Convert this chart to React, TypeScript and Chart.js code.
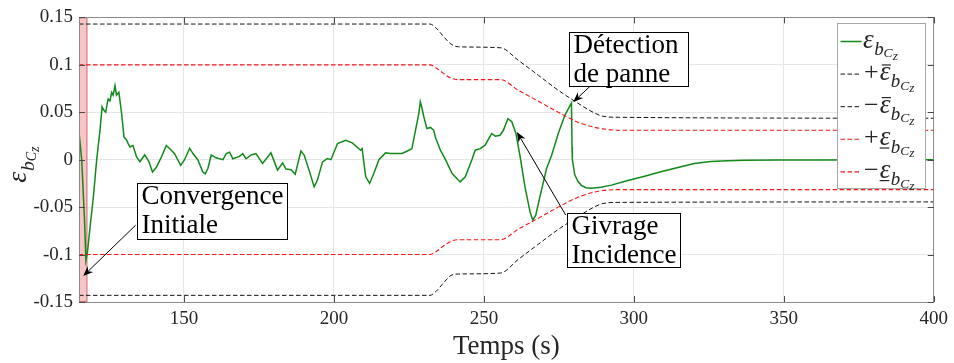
import React, { useEffect, useRef } from "react";
import { Chart, registerables } from "chart.js";

Chart.register(...registerables);

const FONT = "'Liberation Serif', 'Times New Roman', serif";
Chart.defaults.font.family = FONT;

const xMin = 115;
const xMax = 400;
const xTicks = [150, 200, 250, 300, 350, 400];
const yMin = -0.15;
const yMax = 0.15;
const yTicks = [-0.15, -0.1, -0.05, 0, 0.05, 0.1, 0.15];
const yTickLabels = ["-0.15", "-0.1", "-0.05", "0", "0.05", "0.1", "0.15"];

// green signal: time (s)
const tGreen = [
  115, 115.9, 116.8, 117.3, 117.8, 118.7, 119.8, 120.9, 122, 122.7,
  123.3, 123.9, 124.7, 125.3, 125.9, 126.4, 127, 127.5, 128.3, 129.2,
  130, 130.8, 131.4, 132, 133, 134.2, 135.3, 136.9, 138.3, 139.5,
  140.8, 142.5, 144.1, 145.8, 146.9, 148.9, 150.2, 151.9, 153, 154.6,
  156.3, 157.1, 158, 159.1, 160.7, 163, 164.1, 165.2, 166.3, 168.5,
  169.6, 170.7, 172.4, 174, 176.2, 179, 181.2, 182.9, 184, 185.7,
  187.1, 189, 190.1, 191.7, 193.4, 194.5, 196.2, 197.8, 199, 201.2,
  203.9, 206.1, 208.9, 209.4, 210.6, 211.9, 213.3, 215, 217.2, 218.9,
  220.5, 222.7, 225, 226, 227.2, 228.3, 228.8, 229.3, 230, 231,
  232.2, 233.3, 233.8, 235.5, 237.2, 239.4, 242.1, 243.8, 246, 247.1,
  248.8, 250.4, 252.6, 253.8, 255.4, 256.5, 258, 259.3, 260.7, 262.1,
  263.7, 265.4, 266.3, 267.3, 268.7, 270.9, 272.6, 274.8, 277, 279.2,
  279.4, 279.5, 280.3, 281.4, 282.5, 284, 285.9, 289, 292.5, 298,
  303.6, 309, 314.7, 320.2, 325.7, 331.3, 336.8, 347.9, 360, 400,
];
// green signal: epsilon_bCz
const epsGreen = [
  0.029, 0.0, -0.06, -0.106, -0.098, -0.0707, -0.039, 0.0, 0.031, 0.0556,
  0.052, 0.05, 0.064, 0.062, 0.071, 0.068, 0.078, 0.068, 0.071, 0.049,
  0.024, 0.021, 0.017, 0.0135, 0.015, 0.003, -0.002, 0.005, -0.002, -0.013,
  -0.008, 0.003, 0.015, 0.01, 0.006, -0.006, 0.0, 0.012, 0.0065, 0.0,
  -0.013, -0.015, -0.009, 0.005, 0.002, 0.0, 0.0065, 0.008, 0.001, 0.0035,
  0.0065, 0.001, 0.005, 0.0065, -0.004, 0.0072, -0.011, -0.0033, -0.0099, -0.0106,
  -0.0153, 0.0093, 0.0047, -0.011, -0.0286, -0.0215, -0.0023, 0.0012, 0.0, 0.017,
  0.0205, 0.0177, 0.01, 0.0117, -0.018, -0.025, -0.0145, 0.0, 0.0072, 0.0065,
  0.0065, 0.0065, 0.01, 0.0117, 0.031, 0.0486, 0.061, 0.055, 0.045, 0.0328,
  0.034, 0.031, 0.024, 0.01, 0.0, -0.0145, -0.0234, -0.018, 0.0, 0.01,
  0.0117, 0.0153, 0.0276, 0.0248, 0.0258, 0.031, 0.0433, 0.04, 0.0276, 0.003,
  -0.0286, -0.055, -0.0637, -0.0584, -0.039, -0.0093, 0.0047, 0.0276, 0.0468, 0.0598,
  0.0135, 0.0, -0.016, -0.023, -0.027, -0.0295, -0.03, -0.029, -0.0268, -0.022,
  -0.0174, -0.0128, -0.0082, -0.004, -0.0019, -0.001, -0.0007, -0.0004, -0.0002, 0.0,
];

// bounds
const tBound = [115, 232, 234, 236.5, 239, 241.6, 255.5, 261.5, 268.2, 274.8, 281.4, 286.4, 289.7, 295, 400];
const upperBlack = [0.143, 0.143, 0.139, 0.13, 0.122, 0.119, 0.118, 0.1047, 0.0889, 0.0732, 0.0595, 0.05, 0.0458, 0.0447, 0.0437];
const lowerBlack = [-0.143, -0.143, -0.139, -0.13, -0.122, -0.1205, -0.1195, -0.105, -0.089, -0.0735, -0.06, -0.0505, -0.0462, -0.045, -0.0445];
const upperRed = [0.1, 0.1, 0.097, 0.091, 0.086, 0.0844, 0.0844, 0.0732, 0.0616, 0.05, 0.0395, 0.0345, 0.0325, 0.031, 0.031];
const lowerRed = [-0.1, -0.1, -0.097, -0.091, -0.086, -0.0844, -0.0844, -0.0732, -0.0616, -0.05, -0.0395, -0.0345, -0.0325, -0.0315, -0.0315];

// initial convergence shaded window (s)
const shadeStart = 115;
const shadeEnd = 117.8;

const annotations = [
  { lines: ["Convergence", "Initiale"], box: [134.2, -0.025], size: [150, 56], from: [133.9, -0.069], to: [116.4, -0.1226] },
  { lines: ["Détection", "de panne"], box: [278.3, 0.1345], size: [119, 54], from: [285.6, 0.078], to: [279.8, 0.0608] },
  { lines: ["Givrage", "Incidence"], box: [277.6, -0.0566], size: [113, 54], from: [277.3, -0.0584], to: [261.0, 0.0293] },
];

const GREEN = "#12891a";
const BLACK = "#151515";
const RED = "#f01818";
const DASH = [4.5, 2.5];

function drawEps(ctx: CanvasRenderingContext2D, x: number, y: number, size: number, deco: string) {
  ctx.textAlign = "left";
  ctx.textBaseline = "alphabetic";
  ctx.font = `italic ${size}px ${FONT}`;
  ctx.fillText("ε", x, y);
  const w = ctx.measureText("ε").width;
  ctx.lineWidth = Math.max(1, size * 0.045);
  if (deco === "bar") {
    ctx.beginPath();
    ctx.moveTo(x + w * 0.2, y - size * 0.56);
    ctx.lineTo(x + w * 1.05, y - size * 0.56);
    ctx.stroke();
  } else if (deco === "under") {
    ctx.beginPath();
    ctx.moveTo(x, y + size * 0.1);
    ctx.lineTo(x + w * 0.9, y + size * 0.1);
    ctx.stroke();
  }
  let cx = x + w + size * 0.02;
  ctx.font = `italic ${size * 0.7}px ${FONT}`;
  ctx.fillText("b", cx, y + size * 0.27);
  cx += ctx.measureText("b").width;
  ctx.font = `italic ${size * 0.5}px ${FONT}`;
  ctx.fillText("C", cx, y + size * 0.36);
  cx += ctx.measureText("C").width;
  ctx.fillText("z", cx, y + size * 0.45);
  cx += ctx.measureText("z").width;
  return cx;
}

function drawArrow(ctx: CanvasRenderingContext2D, x1: number, y1: number, x2: number, y2: number) {
  const ang = Math.atan2(y2 - y1, x2 - x1);
  const L = 10;
  const W = 4;
  ctx.beginPath();
  ctx.moveTo(x1, y1);
  ctx.lineTo(x2 - Math.cos(ang) * L * 0.7, y2 - Math.sin(ang) * L * 0.7);
  ctx.stroke();
  ctx.save();
  ctx.translate(x2, y2);
  ctx.rotate(ang);
  ctx.beginPath();
  ctx.moveTo(0, 0);
  ctx.lineTo(-L, -W);
  ctx.lineTo(-L * 0.7, 0);
  ctx.lineTo(-L, W);
  ctx.closePath();
  ctx.fill();
  ctx.restore();
}

const overlay = {
  id: "overlay",
  beforeDatasetsDraw(chart: any) {
    const { ctx, chartArea: a, scales } = chart;
    const x1 = scales.x.getPixelForValue(shadeStart);
    const x2 = scales.x.getPixelForValue(shadeEnd);
    ctx.save();
    ctx.fillStyle = "rgba(240,150,150,0.55)";
    ctx.fillRect(x1, a.top, x2 - x1, a.bottom - a.top);
    ctx.strokeStyle = "rgba(200,90,90,0.8)";
    ctx.lineWidth = 1;
    ctx.strokeRect(x1 + 0.5, a.top + 0.5, x2 - x1 - 1, a.bottom - a.top - 1);
    ctx.restore();
  },
  afterDatasetsDraw(chart: any) {
    const { ctx, chartArea: a, scales } = chart;
    const sx = scales.x;
    const sy = scales.y;
    ctx.save();
    // axes box
    ctx.strokeStyle = "#8a8a8a";
    ctx.lineWidth = 1;
    ctx.strokeRect(Math.round(a.left) + 0.5, Math.round(a.top) + 0.5, Math.round(a.right - a.left) - 1, Math.round(a.bottom - a.top));
    // tick marks inward
    ctx.strokeStyle = "#4a4a4a";
    const tl = 6;
    ctx.beginPath();
    for (const v of xTicks) {
      const px = Math.round(sx.getPixelForValue(v)) + 0.5;
      ctx.moveTo(px, a.top);
      ctx.lineTo(px, a.top + tl);
      ctx.moveTo(px, a.bottom);
      ctx.lineTo(px, a.bottom - tl);
    }
    for (const v of yTicks) {
      const py = Math.round(sy.getPixelForValue(v)) + 0.5;
      ctx.moveTo(a.left, py);
      ctx.lineTo(a.left + tl, py);
      ctx.moveTo(a.right, py);
      ctx.lineTo(a.right - tl, py);
    }
    ctx.stroke();

    // annotations
    ctx.strokeStyle = "#000";
    ctx.fillStyle = "#000";
    ctx.lineWidth = 1;
    for (const an of annotations) {
      drawArrow(ctx, sx.getPixelForValue(an.from[0]), sy.getPixelForValue(an.from[1]), sx.getPixelForValue(an.to[0]), sy.getPixelForValue(an.to[1]));
    }
    for (const an of annotations) {
      const bx = Math.round(sx.getPixelForValue(an.box[0])) + 0.5;
      const by = Math.round(sy.getPixelForValue(an.box[1])) + 0.5;
      ctx.fillStyle = "#fff";
      ctx.fillRect(bx, by, an.size[0], an.size[1]);
      ctx.strokeStyle = "#000";
      ctx.strokeRect(bx, by, an.size[0], an.size[1]);
      ctx.fillStyle = "#000";
      ctx.font = `27px ${FONT}`;
      ctx.textAlign = "left";
      ctx.textBaseline = "alphabetic";
      an.lines.forEach((ln, i) => ctx.fillText(ln, bx + 4, by + 20 + i * 29.5));
    }

    // legend
    const lw = 88;
    const lh = 165;
    const lx = Math.round(a.right - 9 - lw) + 0.5;
    const ly = Math.round(a.top + 6) + 0.5;
    ctx.fillStyle = "#fff";
    ctx.fillRect(lx, ly, lw, lh);
    ctx.strokeStyle = "#a8a8a8";
    ctx.strokeRect(lx, ly, lw, lh);
    chart.data.datasets.forEach((ds: any, i: number) => {
      const base = ly + 24 + i * 32.6;
      const ly2 = base - 6;
      ctx.strokeStyle = ds.borderColor;
      ctx.lineWidth = ds.borderWidth;
      ctx.setLineDash(ds.borderDash || []);
      ctx.beginPath();
      ctx.moveTo(lx + 3, ly2);
      ctx.lineTo(lx + 24, ly2);
      ctx.stroke();
      ctx.setLineDash([]);
      ctx.fillStyle = "#262626";
      ctx.strokeStyle = "#262626";
      let tx = lx + 25.5;
      if (ds.sign) {
        ctx.font = `26px ${FONT}`;
        ctx.textAlign = "left";
        ctx.textBaseline = "alphabetic";
        ctx.fillText(ds.sign, tx + 1, base);
        tx += ctx.measureText(ds.sign).width + 2;
      }
      drawEps(ctx, tx, base, 27, ds.deco);
    });

    // x title
    ctx.fillStyle = "#262626";
    ctx.font = `27px ${FONT}`;
    ctx.textAlign = "center";
    ctx.textBaseline = "alphabetic";
    ctx.fillText("Temps (s)", (a.left + a.right) / 2, 354);

    // y title
    ctx.save();
    ctx.translate(26, (a.top + a.bottom) / 2);
    ctx.rotate(-Math.PI / 2);
    ctx.strokeStyle = "#262626";
    drawEps(ctx, -23, 0, 28, "none");
    ctx.restore();

    ctx.restore();
  },
};

export default function App() {
  const ref = useRef<HTMLCanvasElement>(null);
  useEffect(() => {
    const canvas = ref.current!;
    const greenData = tGreen.map((t, i) => ({ x: t, y: epsGreen[i] }));
    const mk = (arr: number[]) => tBound.map((t, i) => ({ x: t, y: arr[i] }));
    const chart = new Chart(canvas, {
      type: "line",
      data: {
        datasets: [
          { data: greenData, borderColor: GREEN, borderWidth: 1.5, pointRadius: 0, tension: 0, order: 1, sign: "", deco: "none" } as any,
          { data: mk(upperBlack), borderColor: BLACK, borderWidth: 1, borderDash: DASH, pointRadius: 0, cubicInterpolationMode: "monotone", order: 0, sign: "+", deco: "bar" } as any,
          { data: mk(lowerBlack), borderColor: BLACK, borderWidth: 1, borderDash: DASH, pointRadius: 0, cubicInterpolationMode: "monotone", order: 0, sign: "\u2212", deco: "bar" } as any,
          { data: mk(upperRed), borderColor: RED, borderWidth: 1.1, borderDash: DASH, pointRadius: 0, cubicInterpolationMode: "monotone", order: 0, sign: "+", deco: "under" } as any,
          { data: mk(lowerRed), borderColor: RED, borderWidth: 1.1, borderDash: DASH, pointRadius: 0, cubicInterpolationMode: "monotone", order: 0, sign: "\u2212", deco: "under" } as any,
        ],
      },
      options: {
        animation: false,
        responsive: false,
        devicePixelRatio: 1,
        parsing: false as any,
        normalized: true,
        layout: { padding: { left: 0, right: 16, top: 17, bottom: 0 } },
        plugins: { legend: { display: false }, tooltip: { enabled: false } },
        scales: {
          x: {
            type: "linear",
            min: xMin,
            max: xMax,
            afterBuildTicks: (s: any) => {
              s.ticks = xTicks.map((v) => ({ value: v }));
            },
            afterFit: (s: any) => {
              s.height = 61;
            },
            grid: { color: "#e6e6e6", drawTicks: false, lineWidth: 1 },
            border: { display: false },
            ticks: {
              padding: 6,
              color: "#262626",
              font: { family: FONT, size: 19 },
              maxRotation: 0,
              autoSkip: false,
              callback: (v: any) => String(v),
            },
          },
          y: {
            type: "linear",
            min: yMin,
            max: yMax,
            afterBuildTicks: (s: any) => {
              s.ticks = yTicks.map((v) => ({ value: v }));
            },
            afterFit: (s: any) => {
              s.width = 79;
            },
            grid: { color: "#e6e6e6", drawTicks: false, lineWidth: 1 },
            border: { display: false },
            ticks: {
              padding: 6,
              color: "#262626",
              font: { family: FONT, size: 19 },
              autoSkip: false,
              callback: (_v: any, i: number) => yTickLabels[i],
            },
          },
        },
      },
      plugins: [overlay],
    } as any);
    return () => chart.destroy();
  }, []);
  return (
    <div style={{ position: "absolute", left: 0, top: 0, width: 954, height: 363, background: "#fff" }}>
      <canvas ref={ref} width={954} height={363} style={{ display: "block", width: 954, height: 363 }} />
    </div>
  );
}
